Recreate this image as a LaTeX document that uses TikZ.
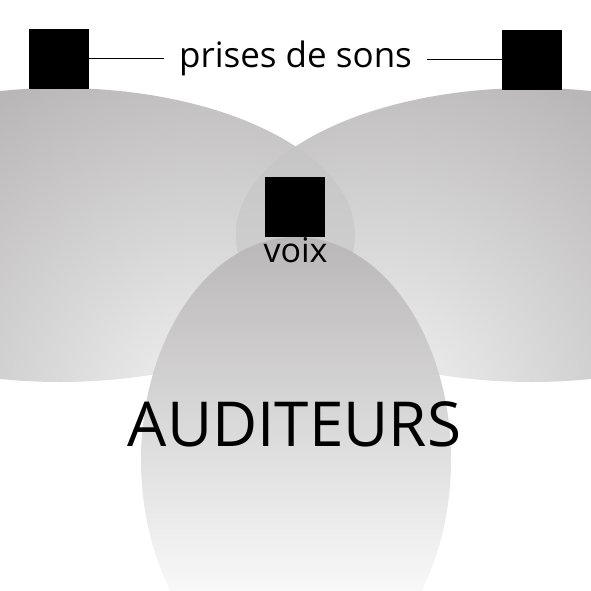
\documentclass[tikz,border=0pt]{standalone}
\usepackage{fontspec}
\setmainfont{Open Sans}
\usetikzlibrary{positioning}

\definecolor{ombre}{HTML}{B9B7B8}
\definecolor{clair}{HTML}{F4F4F4}
\definecolor{lentille}{HTML}{C6C5C5}
\definecolor{blanc}{HTML}{F8F8F8}

\pgfdeclareradialshading{halo}{\pgfpointorigin}{color(0bp)=(clair); color(13.5bp)=(ombre); color(50bp)=(ombre)}

\begin{document}
\begin{tikzpicture}[x=1pt,y=-1pt,
    micro/.style={fill=black, minimum size=60pt, inner sep=0pt},
    legende/.style={inner sep=0pt, anchor=base, font=\fontsize{35}{35}\selectfont},
    fil/.style={draw=black, line width=1pt}]
    \useasboundingbox (0,0) rectangle (591,591);
    \begin{scope}
        \clip (0,0) rectangle (591,591);
        % zones de prise de son
        \begin{scope}
            \clip (60,235) ellipse [x radius=295, y radius=147];
            \shade[shading=halo] (215,415) circle (700);
        \end{scope}
        \begin{scope}
            \clip (531,235) ellipse [x radius=295, y radius=147];
            \shade[shading=halo] (376,415) circle (700);
        \end{scope}
        \begin{scope}
            \clip (60,235) ellipse [x radius=295, y radius=147];
            \clip (531,235) ellipse [x radius=295, y radius=147];
            \shade[top color=lentille, bottom color=lentille!80!white] (230,145) rectangle (360,290);
        \end{scope}
        % zone des auditeurs
        \begin{scope}
            \clip (296,460) ellipse [x radius=155, y radius=223];
            \shade[top color=ombre, bottom color=blanc] (140,237) rectangle (452,591);
        \end{scope}
    \end{scope}

    \node[micro] (micG) at (59,59) {};
    \node[micro] (micD) at (532,60) {};
    \node[micro] (micV) at (295,206.5) {};

    \node[legende, inner xsep=15pt] (sons) at (295.5,68) {prises de sons};
    \node[legende, font=\fontsize{34}{34}\selectfont] (voix) at (295.5,262) {voix};
    \node[legende, font=\fontsize{62}{62}\selectfont] (public) at (294.5,446) {AUDITEURS};

    \draw[fil] (micG.east) -- (micG.east -| sons.west);
    \draw[fil] (micD.west) -- (micD.west -| sons.east);
\end{tikzpicture}
\end{document}
